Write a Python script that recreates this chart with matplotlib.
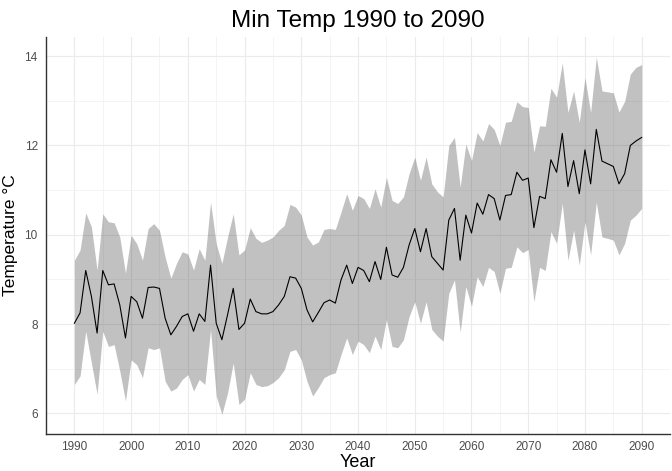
import numpy as np
import matplotlib
matplotlib.use('Agg')
import matplotlib.pyplot as plt
from matplotlib.ticker import MultipleLocator

##========================================
# Min temperature 1990-2090, mean with range band
##========================================

years = np.arange(1990, 2091)

mean_temp = [
    8.02, 8.25, 9.20, 8.62, 7.80, 9.20, 8.88, 8.90, 8.43, 7.69,   # 1990-1999
    8.62, 8.50, 8.13, 8.82, 8.83, 8.80, 8.13, 7.76, 7.95, 8.17,   # 2000-2009
    8.23, 7.84, 8.23, 8.06, 9.32, 8.02, 7.65, 8.21, 8.80, 7.88,   # 2010-2019
    8.02, 8.56, 8.28, 8.23, 8.23, 8.28, 8.43, 8.62, 9.06, 9.03,   # 2020-2029
    8.80, 8.32, 8.05, 8.26, 8.48, 8.54, 8.47, 8.99, 9.32, 8.91,   # 2030-2039
    9.27, 9.20, 8.95, 9.40, 9.00, 9.72, 9.10, 9.05, 9.27, 9.77,   # 2040-2049
    10.14, 9.62, 10.14, 9.51, 9.36, 9.21, 10.33, 10.59, 9.43, 10.44,  # 2050-2059
    10.04, 10.71, 10.46, 10.90, 10.81, 10.33, 10.88, 10.90, 11.40, 11.22,  # 2060-2069
    11.27, 10.16, 10.86, 10.81, 11.68, 11.40, 12.27, 11.08, 11.66, 10.92,  # 2070-2079
    11.90, 11.14, 12.36, 11.65, 11.59, 11.53, 11.14, 11.37, 12.00, 12.10,  # 2080-2089
    12.18,                                                         # 2090
]

upper_temp = [
    9.43, 9.66, 10.49, 10.18, 9.21, 10.47, 10.29, 10.27, 9.95, 9.14,
    9.99, 9.80, 9.43, 10.14, 10.25, 10.10, 9.50, 9.03, 9.36, 9.62,
    9.57, 9.21, 9.69, 9.43, 10.73, 9.80, 9.36, 9.95, 10.47, 9.55,
    9.66, 10.16, 9.92, 9.83, 9.88, 9.95, 10.10, 10.21, 10.68, 10.62,
    10.44, 9.95, 9.77, 9.84, 10.12, 10.14, 10.12, 10.51, 10.92, 10.55,
    10.88, 10.81, 10.59, 11.03, 10.62, 11.29, 10.77, 10.70, 10.85, 11.37,
    11.74, 11.22, 11.74, 11.14, 10.96, 10.85, 12.00, 12.18, 11.07, 12.03,
    11.66, 12.29, 12.10, 12.49, 12.36, 12.00, 12.52, 12.54, 12.98, 12.87,
    12.85, 11.85, 12.44, 12.43, 13.28, 13.08, 13.85, 12.74, 13.22, 12.52,
    13.52, 12.74, 13.98, 13.22, 13.20, 13.18, 12.75, 12.99, 13.60, 13.75,
    13.81,
]

lower_temp = [
    6.65, 6.84, 7.84, 7.13, 6.43, 7.84, 7.50, 7.54, 6.95, 6.28,
    7.20, 7.09, 6.80, 7.47, 7.43, 7.47, 6.72, 6.50, 6.57, 6.76,
    6.87, 6.50, 6.76, 6.65, 7.88, 6.39, 5.98, 6.46, 7.13, 6.20,
    6.32, 6.91, 6.65, 6.60, 6.62, 6.69, 6.80, 6.98, 7.39, 7.43,
    7.20, 6.72, 6.39, 6.58, 6.80, 6.87, 6.91, 7.32, 7.69, 7.32,
    7.62, 7.54, 7.36, 7.73, 7.43, 8.10, 7.50, 7.47, 7.65, 8.17,
    8.50, 8.02, 8.50, 7.88, 7.73, 7.62, 8.69, 8.99, 7.82, 8.84,
    8.40, 9.06, 8.84, 9.27, 9.18, 8.69, 9.25, 9.27, 9.73, 9.60,
    9.67, 8.50, 9.27, 9.20, 10.07, 9.81, 10.70, 9.43, 10.10, 9.32,
    10.29, 9.55, 10.73, 9.95, 9.92, 9.88, 9.55, 9.81, 10.33, 10.44,
    10.59,
]

x_ticks = list(range(1990, 2091, 10))
y_ticks = [6, 8, 10, 12, 14]

##========================================
# Plot
##========================================
plt.rcParams['font.family'] = ['Liberation Sans', 'DejaVu Sans']

fig = plt.figure(figsize=(6.72, 4.71), dpi=100)
ax = fig.add_axes([0.0685, 0.0786, 0.9286, 0.843])

ax.fill_between(years, lower_temp, upper_temp, color='#333333', alpha=0.3,
                linewidth=0, zorder=2)
ax.plot(years, mean_temp, color='black', linewidth=0.8, zorder=3)

ax.set_xlim(1985, 2095)
ax.set_ylim(5.54, 14.43)
ax.set_xticks(x_ticks)
ax.set_yticks(y_ticks)
ax.xaxis.set_minor_locator(MultipleLocator(5))
ax.yaxis.set_minor_locator(MultipleLocator(1))

ax.grid(which='major', color='#ebebeb', linewidth=0.8, zorder=0)
ax.grid(which='minor', color='#f2f2f2', linewidth=0.6, zorder=0)
ax.set_axisbelow(True)

for side in ['top', 'right']:
    ax.spines[side].set_visible(False)
for side in ['left', 'bottom']:
    ax.spines[side].set_color('#333333')
    ax.spines[side].set_linewidth(1.0)

ax.tick_params(which='both', length=0, labelsize=8.5, labelcolor='#4d4d4d')
ax.tick_params(axis='x', pad=5)
ax.tick_params(axis='y', pad=6)

ax.set_xlabel('Year', fontsize=13, labelpad=1)
ax.set_ylabel('Temperature °C', fontsize=12.5)
ax.yaxis.set_label_coords(-0.045, 0.5)
ax.set_title('Min Temp 1990 to 2090', fontsize=17.5, pad=7)

plt.savefig('out.png', dpi=100)
